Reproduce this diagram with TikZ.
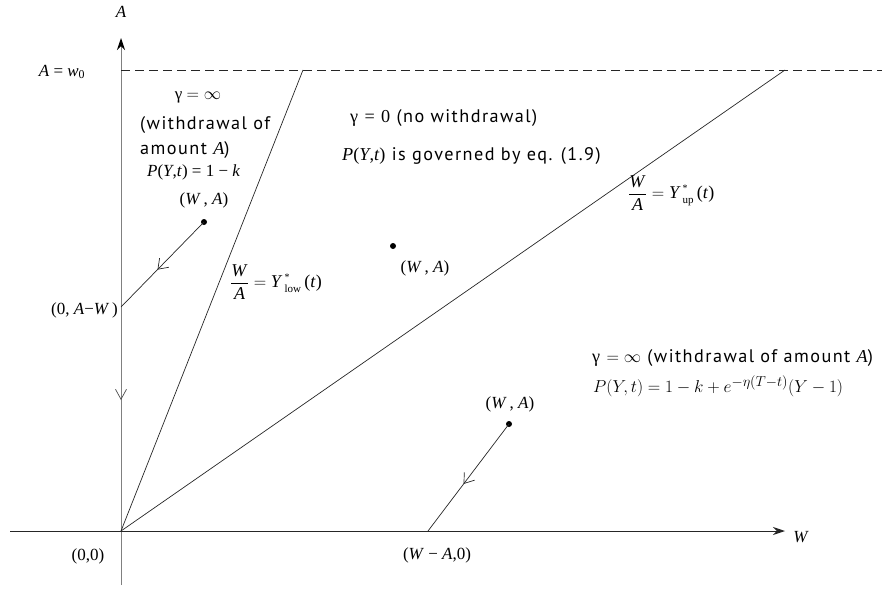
\documentclass[tikz,border=0pt]{standalone}
\usepackage{amsmath}
\usepackage{fontspec}
\newfontfamily\sansls[LetterSpace=8]{PT Sans}
\newfontfamily\tms{Liberation Serif}
\newcommand\mi[1]{\textit{#1}}
\newcommand\hb[1]{\hbox{\textit{#1}}}
\newcommand\supstar{\hbox{\fontsize{10}{10}\selectfont *}}
\usetikzlibrary{arrows.meta,decorations.markings}
\tikzset{
  axisline/.style={line width=1pt},
  plainline/.style={line width=0.7pt, draw=black!85},
  lbl/.style={inner sep=0pt, font=\tms\fontsize{17}{20}\selectfont},
  fraclbl/.style={inner sep=0pt, font=\tms\fontsize{18}{20}\selectfont},
  cmfont/.style={inner sep=0pt, font=\fontsize{19}{22}\selectfont},
  sans/.style={inner sep=0pt, font=\sansls\fontsize{18.2}{25}\selectfont},
  dot/.style={circle, fill=black, inner sep=0pt, minimum size=6pt},
  vhead/.tip={Straight Barb[length=9pt,width=13pt,line width=0.7pt]},
  midarrow/.style={postaction={decorate}, decoration={markings,
      mark=at position 0.56 with {\arrow{vhead}}}}
}
\begin{document}
\begin{tikzpicture}[x=1pt,y=-1pt]
\useasboundingbox (0,0) rectangle (886,589);
% key points
\coordinate (O) at (121,531);
\coordinate (Vbot) at (121,585);
\coordinate (Vtop) at (121,38);
\coordinate (Hl) at (10,531);
\coordinate (Hr) at (785,531);
\coordinate (Dl) at (121,70);
\coordinate (Dr) at (882,70);
\coordinate (Lowtop) at (303,70);
\coordinate (Uptop) at (785,70);
\coordinate (AW) at (121,307);
\coordinate (WA0) at (428,531);
% axes
\draw[axisline, draw=black!50, -{Stealth[length=12pt,width=8pt,black]},
  postaction={decorate}, decoration={markings,
    mark=at position 185pt with {\arrowreversed{Straight Barb[length=10pt,width=11pt,line width=0.7pt,black!70]}}}]
  (Vbot) -- (Vtop);
\draw[axisline, draw=black!85, -{Stealth[length=12pt,width=8pt]}] (Hl) -- (Hr);
\draw[plainline, dash pattern=on 9pt off 5pt] (Dl) -- (Dr);
% boundary lines
\draw[plainline] (O) -- (Lowtop);
\draw[plainline] (O) -- (Uptop);
% points
\node[dot] (p1) at (204,222) {};
\node[dot] (p2) at (393,246) {};
\node[dot] (p3) at (509,424) {};
\draw[plainline, midarrow] (p1.center) -- (AW);
\draw[plainline, midarrow] (p3.center) -- (WA0);
% labels
\node[lbl] (lA) at (121,12) {\mi{A}};
\node[lbl] (lW) at (801,537) {\mi{W}};
\node[lbl] (lw0) at (62,72) {\mi{A} = \mi{w}\textsubscript{0}};
\node[lbl] (l00) at (88,556) {(0,0)};
\node[lbl] (lWA0) at (437,555) {(\mi{W} − \mi{A},0)};
\node[lbl, anchor=east] (lAW) at (118,310) {(0, \mi{A}−\mi{W}\,)};
\node[lbl] (lp1) at (204,200) {(\mi{W}\,, \mi{A})};
\node[lbl] (lp2) at (425,268) {(\mi{W}\,, \mi{A})};
\node[lbl] (lp3) at (510,404) {(\mi{W}\,, \mi{A})};
\node[lbl] (g1) at (198,97) {γ $=\infty$};
\node[sans, anchor=west, align=left] (w1) at (140,137.5) {(withdrawal of\\amount {\tms\mi{A}})};
\node[lbl, anchor=west] (P1) at (147,172) {\mi{P}(\mi{Y},\mi{t}) = 1 − \mi{k}};
\node[fraclbl, anchor=west] (ylow) at (230,282) {$\dfrac{\hb{W}}{\hb{A}}=\hb{Y}^{\,\supstar}_{\,\hbox{\fontsize{11}{11}\selectfont low}}\,\hbox{(\mi{t})}$};
\node[sans, anchor=west] (g0) at (350,118) {{\tms γ} {\tms =} {\tms 0} (no withdrawal)};
\node[sans, anchor=west] (gov) at (342,156) {{\tms\mi{P}(\mi{Y},\mi{t})} is governed by eq. (1.9)};
\node[fraclbl, anchor=west] (yup) at (628,193) {$\dfrac{\hb{W}}{\hb{A}}=\hb{Y}^{\,\supstar}_{\,\hbox{\fontsize{11}{11}\selectfont up}}\,\hbox{(\mi{t})}$};
\node[sans, anchor=west] (g2) at (592,358) {{\tms γ} $=\infty$ (withdrawal of amount {\tms\mi{A}})};
\node[cmfont, anchor=west] (P2) at (593,386) {$P(Y,t)=1-k+e^{-\eta(T-t)}(Y-1)$};
\end{tikzpicture}
\end{document}
